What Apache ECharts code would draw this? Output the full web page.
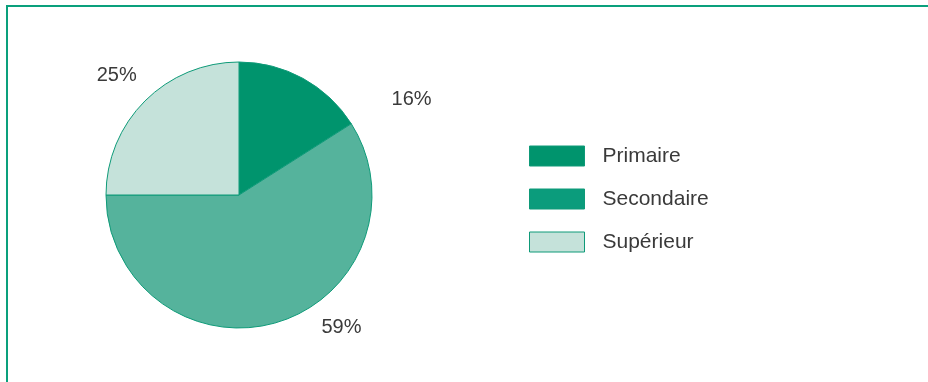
<!DOCTYPE html>
<html><head><meta charset="utf-8">
<script src="https://cdn.jsdelivr.net/npm/echarts@6/dist/echarts.min.js"></script>
<style>
html,body{margin:0;padding:0;background:#fff;}
#c{width:928px;height:382px;position:absolute;left:0;top:0;}
#f{position:absolute;left:6px;top:5px;right:0;bottom:0;border-left:2px solid #0aa07c;border-top:2px solid #0aa07c;pointer-events:none;}
</style></head>
<body><div id="c"></div><div id="f"></div>
<script>
const categories = ['Primaire', 'Secondaire', 'Supérieur'];
const values = [16, 59, 25];
const sliceColors = ['#00946d', '#55b39c', '#c5e2da'];
const legendColors = ['#00946d', '#0b9c7c', '#c5e2da'];
const labelOffsets = [[69, 47], [32, -24], [18, -4]];

const chart = echarts.init(document.getElementById('c'));
chart.setOption({
  animation: false,
  legend: {
    orient: 'vertical',
    left: 524, top: 140,
    itemWidth: 55, itemHeight: 20, itemGap: 21,
    icon: 'rect',
    textStyle: {fontFamily: 'Liberation Sans', fontSize: 21, lineHeight: 20, color: '#3a3a3a', padding: [2, 0, 0, 13]},
    data: categories.map((c, i) => ({name: c, itemStyle: {color: legendColors[i], borderColor: '#0e9a78', borderWidth: 1}}))
  },
  series: [{
    type: 'pie',
    center: [239, 195],
    radius: 133,
    startAngle: 90,
    clockwise: true,
    label: {
      show: true, position: 'outside',
      formatter: '{d}%',
      fontFamily: 'Liberation Sans', fontSize: 20, color: '#3a3a3a'
    },
    labelLine: {show: false, length: 30, length2: 0},
    labelLayout: function (p) {
      const o = labelOffsets[p.dataIndex];
      return {dx: o[0], dy: o[1]};
    },
    itemStyle: {borderColor: '#0e9a78', borderWidth: 1},
    data: categories.map((c, i) => ({name: c, value: values[i], itemStyle: {color: sliceColors[i]}}))
  }]
});
</script></body></html>
